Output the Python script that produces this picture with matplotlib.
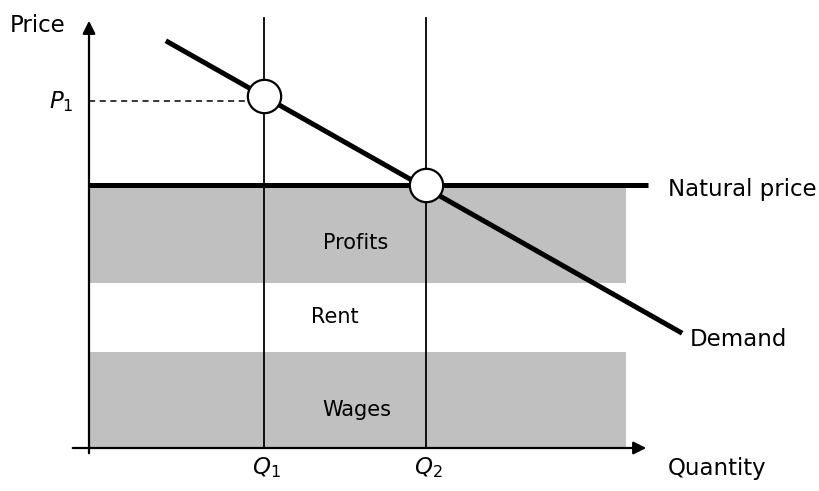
import matplotlib.pyplot as plt
import numpy as np

# data (origin at the axes crossing, one unit ~ one pixel) ---------------------
q_marks = [175, 337]            # Q1, Q2
q_labels = ['$Q_1$', '$Q_2$']
natural_price = 263
demand_x = [79, 591]
demand_y = [406, 116]
band_right = 537
bands = [(165, 262), (0, 96)]   # profits, wages
band_names = ['Profits', 'Rent', 'Wages']
band_label_y = [205, 131, 38]
band_label_x = [267, 246, 268]


def demand(q):
    slope = (demand_y[1] - demand_y[0]) / (demand_x[1] - demand_x[0])
    return demand_y[0] + slope * (q - demand_x[0])


p1 = demand(q_marks[0])

fig = plt.figure(figsize=(8.2, 4.91), dpi=100)
ax = fig.add_axes([0, 0, 1, 1])
ax.set_xlim(-89, 731)
ax.set_ylim(-43, 448)
ax.axis('off')

fs_big = 16.5
fs_band = 15

# bands --------------------------------------------------------------------
for lo, hi in bands:
    ax.fill_between([0, band_right], lo, hi, color='#c0c0c0', lw=0, zorder=1)
for name, x, y in zip(band_names, band_label_x, band_label_y):
    ax.text(x, y, name, ha='center', va='center', fontsize=fs_band)

# axes arrows --------------------------------------------------------------
ax.annotate('', xy=(0, 430), xytext=(0, -8),
            arrowprops=dict(arrowstyle='-|>', lw=1.6, color='k', mutation_scale=19))
ax.annotate('', xy=(560, 0), xytext=(-19, 0),
            arrowprops=dict(arrowstyle='-|>', lw=1.6, color='k', mutation_scale=19))

# verticals at Q1, Q2 ------------------------------------------------------
for q, lab in zip(q_marks, q_labels):
    ax.plot([q, q], [0, 430], color='k', lw=1.3, zorder=2)
    ax.text(q + 2, -20, lab, ha='center', va='center', fontsize=fs_big)

# natural price and demand -------------------------------------------------
ax.plot([0, 559], [natural_price, natural_price], color='k', lw=3.6,
        solid_capstyle='butt', zorder=3)
ax.plot(demand_x, demand_y, color='k', lw=3.6, zorder=3)

# P1 dashed ----------------------------------------------------------------
ax.plot([0, q_marks[0]], [p1 - 5, p1 - 5], color='k', lw=1.1, ls=(0, (4, 3)), zorder=2)
ax.text(-40, p1 - 5, '$P_1$', ha='left', va='center', fontsize=fs_big)

# circles ------------------------------------------------------------------
ax.plot([q_marks[0], q_marks[1]], [p1, natural_price], 'o', ms=24, mfc='white',
        mec='k', mew=1.6, zorder=4)

# labels -------------------------------------------------------------------
ax.text(-79, 423, 'Price', ha='left', va='center', fontsize=fs_big)
ax.text(579, natural_price - 4, 'Natural price', ha='left', va='center', fontsize=fs_big)
ax.text(601, 109, 'Demand', ha='left', va='center', fontsize=fs_big)
ax.text(579, -21, 'Quantity', ha='left', va='center', fontsize=fs_big)

plt.savefig('out.png', dpi=100)
